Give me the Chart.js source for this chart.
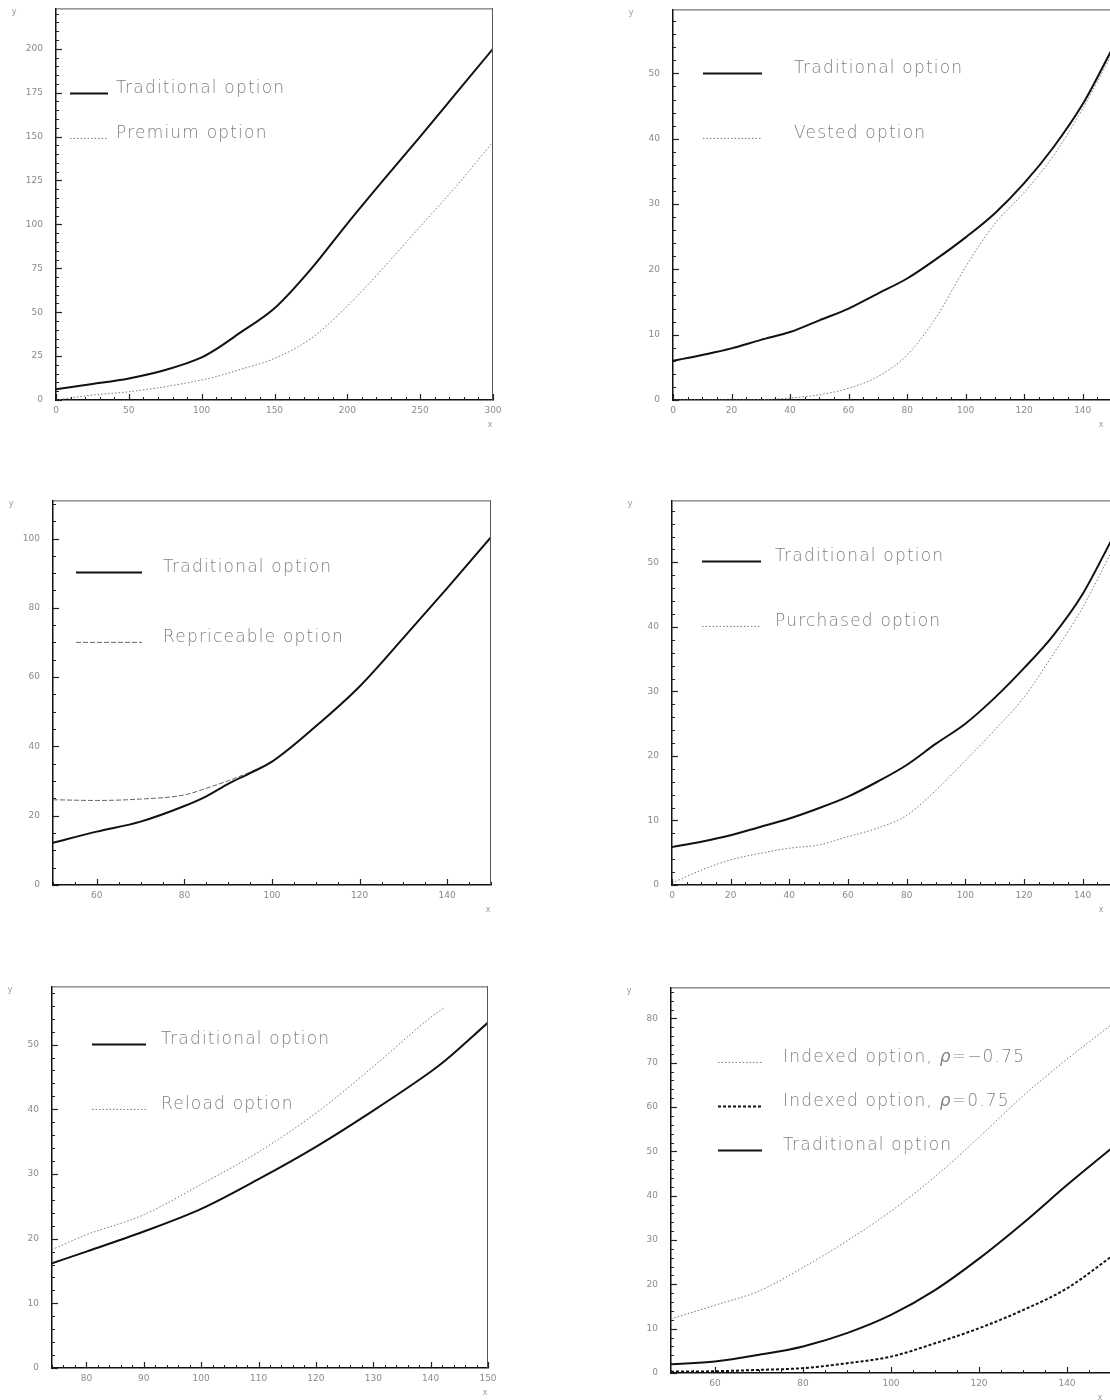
<!DOCTYPE html>
<html>
<head>
<meta charset="utf-8">
<script src="https://cdn.jsdelivr.net/npm/chart.js@4.4.1/dist/chart.umd.min.js"></script>
<style>
  html, body { margin: 0; padding: 0; background: #fff; }
  body { width: 1110px; height: 1400px; overflow: hidden; position: relative; }
  canvas { position: absolute; }
</style>
</head>
<body>
<canvas id="c1"></canvas>
<canvas id="c2"></canvas>
<canvas id="c3"></canvas>
<canvas id="c4"></canvas>
<canvas id="c5"></canvas>
<canvas id="c6"></canvas>
<script>
// panel 1: premium vs traditional
const p1X = [0, 25, 50, 75, 100, 110, 125, 150, 175, 200, 225, 250, 275, 300];
const p1Traditional = [6.1, 9.1, 12.3, 17.1, 24.3, 29.0, 37.5, 52.2, 74.5, 100.5, 125.5, 150, 175, 200];
const p1Premium = [0, 2.8, 4.7, 7.6, 11.4, 13.3, 17.0, 23.7, 35.0, 53.5, 75.5, 98.8, 122, 147];

// panel 2: vested vs traditional
const p2X = [0, 10, 20, 30, 40, 50, 60, 70, 80, 90, 100, 110, 120, 130, 140, 150];
const p2Traditional = [6.0, 6.9, 7.9, 9.2, 10.4, 12.2, 14.0, 16.3, 18.6, 21.6, 24.9, 28.6, 33.2, 38.7, 45.3, 53.7];
const p2Vested = [0, 0, 0, 0.05, 0.3, 0.8, 1.8, 3.6, 6.9, 12.7, 20.4, 27.0, 31.8, 37.4, 44.6, 53.0];

// panel 3: repriceable vs traditional
const p3X = [50, 60, 70, 80, 85, 90, 95, 100, 110, 120, 130, 140, 150];
const p3Traditional = [12.2, 15.4, 18.3, 22.8, 25.6, 29.2, 32.3, 35.6, 45.8, 57.3, 71.3, 85.7, 100.4];
const p3Repriceable = [24.6, 24.4, 24.8, 26.0, 27.9, 30.1, 32.6, 35.6, 45.8, 57.3, 71.3, 85.7, 100.4];

// panel 4: purchased vs traditional
const p4X = [0, 10, 20, 30, 40, 50, 60, 70, 80, 90, 100, 110, 120, 130, 140, 150];
const p4Traditional = [5.9, 6.7, 7.7, 9.0, 10.3, 11.9, 13.7, 16.0, 18.6, 21.9, 25.0, 29.0, 33.6, 38.7, 45.1, 53.6];
const p4Purchased = [0.3, 2.3, 3.9, 4.9, 5.7, 6.2, 7.5, 8.8, 10.8, 14.7, 19.3, 24.0, 29.1, 35.8, 43.0, 51.8];

// panel 5: reload vs traditional
const p5X = [74, 80, 90, 100, 110, 120, 130, 140, 142.5, 150];
const p5Traditional = [16.2, 18.0, 21.1, 24.6, 29.2, 34.2, 39.8, 45.8, 47.5, 53.4];
const p5Reload = [18.3, 20.6, 23.7, 28.4, 33.4, 39.4, 46.6, 54.2, 55.8, null];

// panel 6: indexed options vs traditional
const p6X = [50, 60, 70, 80, 90, 100, 110, 120, 130, 140, 150];
const p6IndexedNeg = [12.2, 15.3, 18.5, 23.8, 29.8, 36.5, 44.3, 53.2, 62.5, 70.8, 78.5];
const p6IndexedPos = [0.3, 0.4, 0.7, 1.1, 2.2, 3.7, 6.7, 10.1, 14.2, 19.1, 26.2];
const p6Traditional = [2.0, 2.6, 4.1, 6.0, 9.0, 13.1, 18.7, 25.8, 33.8, 42.4, 50.6];

const styles = {
  solid:  { borderColor: '#111', borderWidth: 2, borderDash: [] },
  dotted: { borderColor: '#777', borderWidth: 1, borderDash: [1.5, 2] },
  dashed: { borderColor: '#666', borderWidth: 1, borderDash: [5, 2] },
  thickDash: { borderColor: '#111', borderWidth: 2, borderDash: [3, 2] }
};

const panels = [
  { id: 'c1', box: [56, 8, 493, 400], xs: p1X,
    x: { min: 0, max: 300, major: 50, minor: 10 }, y: { min: 0, max: 223, major: 25, minor: 5 },
    series: [['Traditional option', p1Traditional, 'solid'], ['Premium option', p1Premium, 'dotted']],
    legend: { dx: 14, dy: 85, gap: 45, len: 38, textGap: 8 } },
  { id: 'c2', box: [673, 9, 1112, 400], xs: p2X, hideLast: true, xLabelDx: -8,
    x: { min: 0, max: 150, major: 20, minor: 5 }, y: { min: 0, max: 59.8, major: 10, minor: 2 },
    series: [['Traditional option', p2Traditional, 'solid'], ['Vested option', p2Vested, 'dotted']],
    legend: { dx: 30, dy: 64, gap: 65, len: 59, textGap: 32 } },
  { id: 'c3', box: [53, 500, 491, 885], xs: p3X,
    x: { min: 50, max: 150, major: 20, minor: 5 }, y: { min: 0, max: 111, major: 20, minor: 5 },
    series: [['Traditional option', p3Traditional, 'solid'], ['Repriceable option', p3Repriceable, 'dashed']],
    legend: { dx: 23, dy: 72, gap: 70, len: 66, textGap: 21 } },
  { id: 'c4', box: [672, 500, 1112, 885], xs: p4X, hideLast: true, xLabelDx: -8,
    x: { min: 0, max: 150, major: 20, minor: 5 }, y: { min: 0, max: 59.6, major: 10, minor: 2 },
    series: [['Traditional option', p4Traditional, 'solid'], ['Purchased option', p4Purchased, 'dotted']],
    legend: { dx: 30, dy: 61, gap: 65, len: 59, textGap: 14 } },
  { id: 'c5', box: [52, 986, 488, 1368], xs: p5X,
    x: { min: 74, max: 150, major: 10, minor: 2 }, y: { min: 0, max: 59, major: 10, minor: 2 },
    series: [['Traditional option', p5Traditional, 'solid'], ['Reload option', p5Reload, 'dotted']],
    legend: { dx: 40, dy: 58, gap: 65, len: 54, textGap: 15 } },
  { id: 'c6', box: [671, 987, 1111, 1373], xs: p6X, hideLast: true, xLabelDx: -8,
    x: { min: 50, max: 150, major: 20, minor: 5 }, y: { min: 0, max: 87, major: 10, minor: 2 },
    series: [['Indexed option, ρ=−0.75', p6IndexedNeg, 'dotted'], ['Indexed option, ρ=0.75', p6IndexedPos, 'thickDash'],
             ['Traditional option', p6Traditional, 'solid']],
    legend: { dx: 47, dy: 75, gap: 44, len: 44, textGap: 21 } }
];

const LEGEND_FONT = "200 17px 'DejaVu Sans'";

/* inward ticks, frame, legend inside the plot, tiny x / y letters */
const framePlugin = {
  id: 'frame',
  afterDraw(chart, args, opts) {
    const { ctx, chartArea: a, scales } = chart;
    ctx.save();
    // top and right edges
    ctx.strokeStyle = '#555';
    ctx.lineWidth = 1;
    ctx.beginPath();
    ctx.moveTo(a.left, a.top + 0.5); ctx.lineTo(a.right, a.top + 0.5);
    ctx.moveTo(a.right - 0.5, a.top); ctx.lineTo(a.right - 0.5, a.bottom);
    ctx.stroke();

    ctx.strokeStyle = '#222';
    const tickRun = (scale, cfg, horiz) => {
      const first = Math.ceil(cfg.min / cfg.minor) * cfg.minor;
      for (let v = first; v <= cfg.max + 1e-9; v += cfg.minor) {
        const isMajor = Math.abs(v / cfg.major - Math.round(v / cfg.major)) < 1e-6;
        const len = isMajor ? 6 : 3;
        const p = Math.round(scale.getPixelForValue(v)) + 0.5;
        ctx.lineWidth = isMajor ? 1.2 : 1;
        ctx.beginPath();
        if (horiz) { ctx.moveTo(p, a.bottom); ctx.lineTo(p, a.bottom - len); }
        else { ctx.moveTo(a.left, p); ctx.lineTo(a.left + len, p); }
        ctx.stroke();
      }
    };
    tickRun(scales.x, opts.x, true);
    tickRun(scales.y, opts.y, false);

    // axis letters
    ctx.fillStyle = '#999';
    ctx.font = "8px 'DejaVu Sans'";
    ctx.textAlign = 'center';
    ctx.textBaseline = 'middle';
    ctx.fillText('y', a.left - 42, a.top + 4);
    ctx.fillText('x', a.right - 3 + (opts.xLabelDx || 0), a.bottom + 25);

    // legend
    const lg = opts.legend;
    chart.data.datasets.forEach((ds, i) => {
      const y = a.top + lg.dy + i * lg.gap;
      const x0 = a.left + lg.dx;
      ctx.strokeStyle = ds.borderColor;
      ctx.lineWidth = ds.borderWidth;
      ctx.setLineDash(ds.borderDash);
      ctx.beginPath(); ctx.moveTo(x0, y); ctx.lineTo(x0 + lg.len, y); ctx.stroke();
      ctx.setLineDash([]);
      ctx.fillStyle = '#808080';
      ctx.textAlign = 'left';
      ctx.textBaseline = 'middle';
      ctx.letterSpacing = '1.2px';
      let tx = x0 + lg.len + lg.textGap;
      ds.label.split(/(ρ)/).forEach(part => {
        if (!part) return;
        ctx.font = part === 'ρ' ? "italic " + LEGEND_FONT : LEGEND_FONT;
        ctx.fillText(part, tx, y - 5);
        tx += ctx.measureText(part).width;
      });
    });
    ctx.restore();
  }
};

function majorTicks(min, max, step) {
  const out = [];
  for (let v = Math.ceil(min / step) * step; v <= max + 1e-9; v += step) out.push({ value: v });
  return out;
}

function buildPanel(p, w, h) {
  const canvas = document.getElementById(p.id);
  canvas.width = w; canvas.height = h;
  canvas.style.width = w + 'px';
  canvas.style.height = h + 'px';
  const tickFont = { family: "'DejaVu Sans'", size: 9 };
  return new Chart(canvas, {
    type: 'line',
    data: {
      datasets: p.series.map(([label, vals, st]) => ({
        label,
        data: p.xs.map((x, i) => ({ x, y: vals[i] })),
        ...styles[st],
        pointRadius: 0,
        fill: false,
        cubicInterpolationMode: 'monotone',
        spanGaps: false
      }))
    },
    options: {
      responsive: false,
      animation: false,
      events: [],
      layout: { padding: { top: 6, right: 20, left: 0, bottom: 0 } },
      plugins: {
        legend: { display: false },
        tooltip: { enabled: false },
        frame: { x: p.x, y: p.y, legend: p.legend, xLabelDx: p.xLabelDx }
      },
      scales: {
        x: {
          type: 'linear', min: p.x.min, max: p.x.max,
          grid: { display: false, drawTicks: false },
          border: { display: true, color: '#111', width: 1.5 },
          ticks: {
            padding: 5, color: '#8a8a8a', font: tickFont, maxRotation: 0, autoSkip: false,
            callback: v => (p.hideLast && v === p.x.max) ? '' : v
          },
          afterBuildTicks: s => { s.ticks = majorTicks(p.x.min, p.x.max, p.x.major); },
          afterFit: s => { s.height = 32; }
        },
        y: {
          type: 'linear', min: p.y.min, max: p.y.max,
          grid: { display: false, drawTicks: false },
          border: { display: true, color: '#111', width: 1.5 },
          ticks: { padding: 13, color: '#8a8a8a', font: tickFont },
          afterBuildTicks: s => { s.ticks = majorTicks(p.y.min, p.y.max, p.y.major); },
          afterFit: s => { s.width = 50; }
        }
      }
    },
    plugins: [framePlugin]
  });
}

// first pass measures the margins Chart.js leaves around the plot, second pass places the plot on its box
panels.forEach(p => {
  const [pl, pt, pr, pb] = p.box;
  let chart = buildPanel(p, 600, 500);
  const a = chart.chartArea;
  const mL = a.left, mT = a.top, mR = 600 - a.right, mB = 500 - a.bottom;
  chart.destroy();
  const w = Math.round(pr - pl + mL + mR);
  const h = Math.round(pb - pt + mT + mB);
  const canvas = document.getElementById(p.id);
  canvas.style.left = Math.round(pl - mL) + 'px';
  canvas.style.top = Math.round(pt - mT) + 'px';
  buildPanel(p, w, h);
});
</script>
</body>
</html>
